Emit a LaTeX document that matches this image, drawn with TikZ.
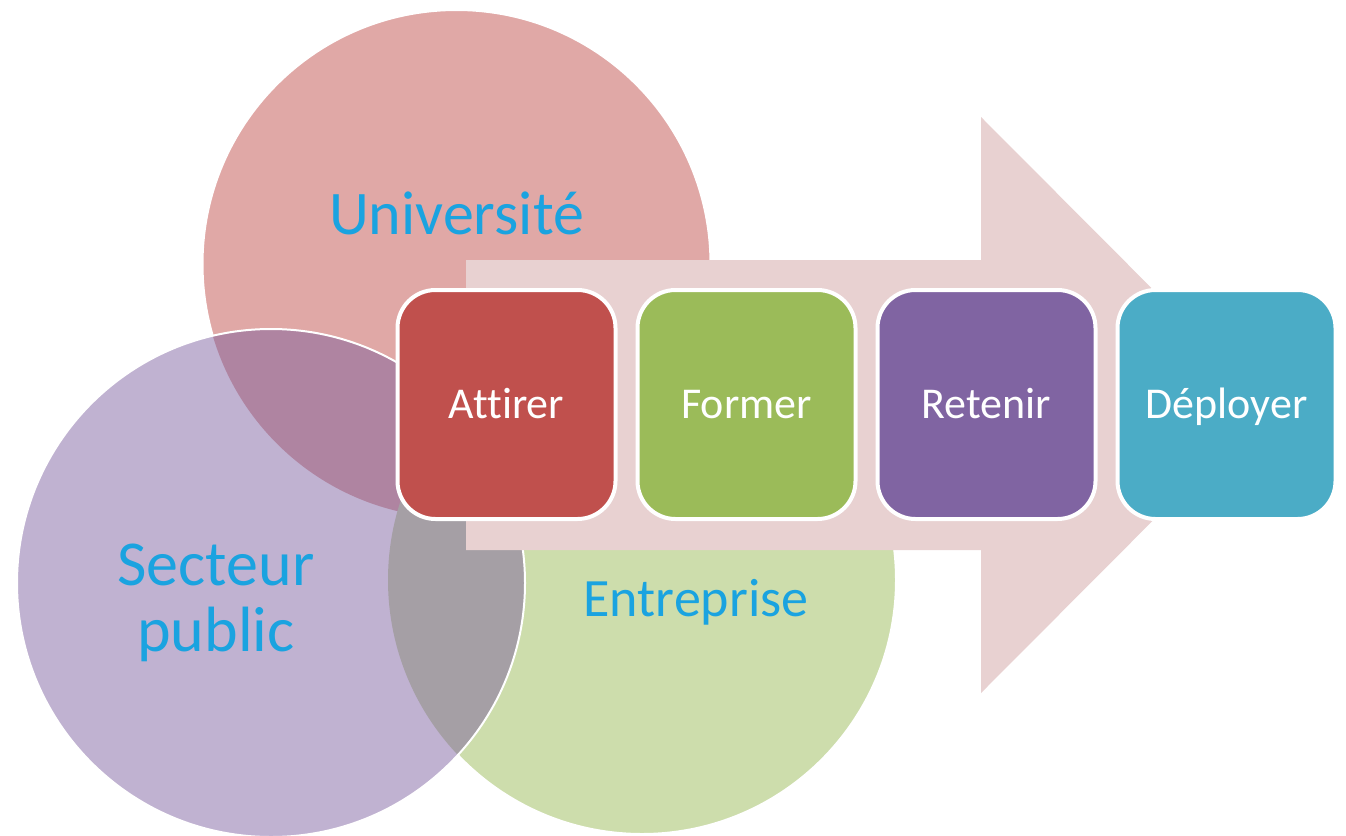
\documentclass[tikz,border=0pt]{standalone}
\usepackage{fontspec}
\setmainfont{Carlito}[Ligatures=NoCommon]
\usetikzlibrary{positioning}

\definecolor{univ}{HTML}{E0A8A6}
\definecolor{secteur}{HTML}{C0B2D1}
\definecolor{entre}{HTML}{CDDDAC}
\definecolor{univsect}{HTML}{AF84A1}
\definecolor{sectentre}{HTML}{A59FA5}
\definecolor{fleche}{HTML}{E8D1D1}
\definecolor{bleutexte}{HTML}{1AA3E0}
\definecolor{rouge}{HTML}{C0504D}
\definecolor{vert}{HTML}{9BBB59}
\definecolor{violet}{HTML}{8064A2}
\definecolor{turquoise}{HTML}{4BACC6}

\tikzset{
  etape/.style={rounded corners=38pt, draw=white, line width=4pt,
    minimum width=218pt, minimum height=229pt, text=white,
    text height=36pt, text depth=9pt,
    font=\fontsize{44}{48}\selectfont},
  cercle/.style={text=bleutexte, font=\fontsize{62}{66}\selectfont, align=center}
}

\begin{document}
\begin{tikzpicture}[x=1pt,y=-1pt]
    \useasboundingbox (0,0) rectangle (1346,835);
    % cercles
    \fill[univ] (456.5,264) circle[radius=254pt];
    \draw[white,line width=2pt] (456.5,264) circle[radius=254pt];
    \fill[entre] (642,580) circle[radius=254pt];
    \draw[white,line width=2pt] (642,580) circle[radius=254pt];
    \fill[secteur] (271,583) circle[radius=254pt];
    \begin{scope}
        \clip (271,583) circle[radius=254pt];
        \fill[univsect] (456.5,264) circle[radius=254pt];
        \fill[sectentre] (642,580) circle[radius=254pt];
    \end{scope}
    \draw[white,line width=2pt] (271,583) circle[radius=254pt];
    \node[cercle] (universite) at (456.5,213) {Université};
    \node[cercle,font=\fontsize{64}{66}\selectfont] (public) at (216,603) {Secteur\\public};
    \node[cercle,font=\fontsize{54}{60}\selectfont] (entreprise) at (696,602) {Entreprise};
    % fleche
    \fill[fleche] (466,260) -- (981,260) -- (981,117) -- (1268,405)
        -- (981,693) -- (981,550) -- (466,550) -- cycle;
    % etapes
    \node[etape,fill=rouge] (attirer) at (506.5,404.5) {Attirer};
    \node[etape,fill=vert,right=18pt of attirer] (former) {Former};
    \node[etape,fill=violet,right=18pt of former] (retenir) {Retenir};
    \node[etape,fill=turquoise,right=18pt of retenir] (deployer) {Déployer};
\end{tikzpicture}
\end{document}
